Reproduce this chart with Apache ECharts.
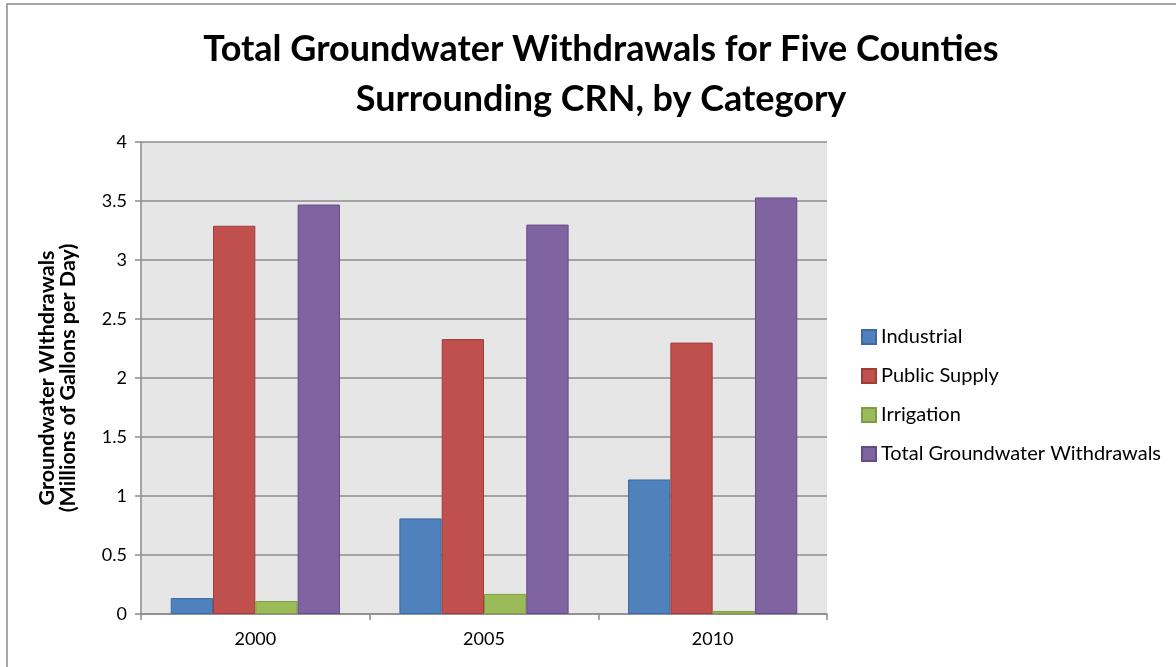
<!DOCTYPE html>
<html><head><meta charset="utf-8">
<script src="https://cdn.jsdelivr.net/npm/echarts@6/dist/echarts.min.js"></script>
<style>html,body{margin:0;padding:0;background:#fff}#c{width:1176px;height:667px}</style>
</head><body><div id="c"></div>
<script>
const categories = ['2000', '2005', '2010'];
const industrial = [0.135, 0.81, 1.14];
const publicSupply = [3.29, 2.33, 2.30];
const irrigation = [0.11, 0.17, 0.025];
const totalWithdrawals = [3.47, 3.30, 3.53];
const seriesNames = ['Industrial', 'Public Supply', 'Irrigation', 'Total Groundwater Withdrawals'];
const colors = ['#4f81bd', '#c0504d', '#9bbb59', '#8064a2'];
const borders = ['#3c6aa3', '#a03d3a', '#7f9c45', '#654c86'];
const dataSets = [industrial, publicSupply, irrigation, totalWithdrawals];

const chart = echarts.init(document.getElementById('c'));
const font = 'Lato, "Open Sans", sans-serif';
chart.setOption({
  animation: false,
  graphic: [{
    type: 'rect', shape: {x: 7, y: 4, width: 1200, height: 700},
    style: {fill: 'none', stroke: '#8a8a8a', lineWidth: 1.5}, silent: true, z: -1
  }],
  title: {
    text: 'Total Groundwater Withdrawals for Five Counties\nSurrounding CRN, by Category',
    left: 596, textAlign: 'center', top: 19,
    textStyle: {fontFamily: font, fontWeight: 'bold', fontSize: 36, lineHeight: 50, color: '#000'}
  },
  legend: {
    orient: 'vertical', left: 856, top: 322,
    itemWidth: 14, itemHeight: 14, itemGap: 19,
    icon: 'rect',
    textStyle: {fontFamily: font, fontSize: 20, color: '#000'},
    data: seriesNames
  },
  grid: {left: 141, right: 349, top: 142, bottom: 53, show: true, backgroundColor: '#e6e6e6', borderWidth: 0},
  xAxis: {
    type: 'category', data: categories,
    axisLine: {lineStyle: {color: '#8c8c8c', width: 1.5}},
    axisTick: {show: true, length: 6, lineStyle: {color: '#8c8c8c', width: 1.5}},
    axisLabel: {fontFamily: font, fontSize: 18, color: '#000', margin: 16}
  },
  yAxis: {
    type: 'value', min: 0, max: 4, interval: 0.5,
    name: 'Groundwater WIthdrawals\n(Millions of Gallons per Day)',
    nameLocation: 'middle', nameGap: 62, nameRotate: 90,
    nameTextStyle: {fontFamily: font, fontWeight: 'bold', fontSize: 21.5, lineHeight: 21, color: '#000'},
    axisLine: {show: true, lineStyle: {color: '#8c8c8c', width: 1.5}},
    axisTick: {show: true, length: 6, lineStyle: {color: '#8c8c8c', width: 1.5}},
    axisLabel: {fontFamily: font, fontSize: 18, color: '#000', margin: 14},
    splitLine: {lineStyle: {color: '#8c8c8c', width: 1.5}}
  },
  series: seriesNames.map((n, i) => ({
    name: n, type: 'bar', data: dataSets[i],
    barGap: '0%', barCategoryGap: '26%',
    itemStyle: {color: colors[i], borderColor: borders[i], borderWidth: 1}
  }))
});
</script></body></html>
